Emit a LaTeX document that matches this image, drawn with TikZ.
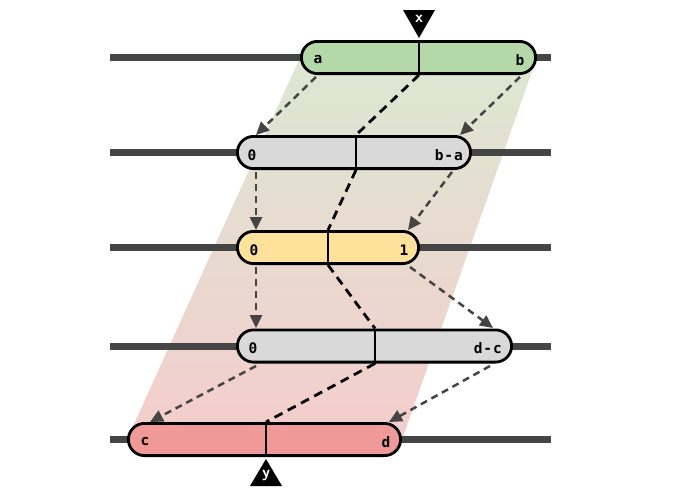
\documentclass[tikz,border=0pt]{standalone}
\usepackage{fontspec}
\newfontfamily\monof[LetterSpace=6]{DejaVu Sans Mono}
\usetikzlibrary{arrows.meta}
\definecolor{rail}{HTML}{454545}
\definecolor{pgreen}{HTML}{B5D8A8}
\definecolor{pgray}{HTML}{D9D9D9}
\definecolor{pyellow}{HTML}{FEE29B}
\definecolor{pred}{HTML}{EF9A98}
\definecolor{shtop}{HTML}{DCE8D2}
\definecolor{shbot}{HTML}{F4CDCC}
\definecolor{arr}{HTML}{444444}
\tikzset{
  railline/.style={line width=7pt, rail},
  pill/.style={draw=black, line width=2.8pt, rounded corners=16.1pt, minimum height=32.2pt, inner sep=0pt},
  divline/.style={line width=2.6pt, black},
  midline/.style={line width=2.8pt, black, dash pattern=on 9pt off 6pt},
  flow/.style={line width=2.5pt, arr, dash pattern=on 7pt off 5pt, -{Triangle[length=13pt,width=12pt]}},
  lbl/.style={font=\monof\bfseries\fontsize{14.5}{16}\selectfont, inner sep=0pt},
  tri/.style={fill=black},
  trilbl/.style={font=\sffamily\bfseries\fontsize{16}{18}\selectfont, text=white, inner sep=0pt}
}
\begin{document}
\begin{tikzpicture}[x=1pt,y=-1pt]
\useasboundingbox (0,0) rectangle (680,498);
% shaded band
\coordinate (s1) at (300,57.5);
\coordinate (s2) at (537,57.5);
\coordinate (s3) at (402,439.5);
\coordinate (s4) at (127,439.5);
\shade[top color=shtop, bottom color=shbot] (s1) -- (s2) -- (s3) -- (s4) -- cycle;
% rails
\foreach \yy/\nm in {57.5/r1,152.5/r2,247.5/r3,346/r4,439.5/r5}{
  \coordinate (\nm l) at (110,\yy);
  \coordinate (\nm r) at (551,\yy);
  \draw[railline] (\nm l) -- (\nm r);
}
% pills
\node[pill, fill=pgreen, minimum width=234.2pt] (p1) at (418.5,57.5) {};
\node[pill, fill=pgray, minimum width=233.2pt] (p2) at (354,152.5) {};
\node[pill, fill=pyellow, minimum width=181.2pt] (p3) at (328,247.5) {};
\node[pill, fill=pgray, minimum width=274.2pt] (p4) at (374.5,346) {};
\node[pill, fill=pred, minimum width=272.2pt] (p5) at (264.5,439.5) {};
% dividers
\coordinate (m1) at (419,57.5);
\coordinate (m2) at (356,152.5);
\coordinate (m3) at (328,247.5);
\coordinate (m4) at (375,346);
\coordinate (m5) at (266,439.5);
\foreach \i in {1,...,5}{
  \draw[divline] (m\i |- p\i.north) -- (m\i |- p\i.south);
}
% mid dashed connectors
\draw[midline] (m1 |- p1.south) -- (m2 |- p2.north);
\draw[midline] (m2 |- p2.south) -- (m3 |- p3.north);
\draw[midline] (m3 |- p3.south) -- (m4 |- p4.north);
\draw[midline] (m4 |- p4.south) -- (m5 |- p5.north);
% labels
\node[lbl] (la) at (318,60) {a};
\node[lbl] (lb) at (520,60) {b};
\node[lbl] (l20) at (252,155) {0};
\node[lbl, anchor=east] (l2r) at (463,155) {b-a};
\node[lbl] (l30) at (254,250) {0};
\node[lbl] (l31) at (404,250) {1};
\node[lbl] (l40) at (253,348) {0};
\node[lbl, anchor=east] (l4r) at (502,348) {d-c};
\node[lbl] (lc) at (145,442) {c};
\node[lbl] (ld) at (386,442) {d};
% flow arrows
\coordinate (a1s) at (316,77);  \coordinate (a1e) at (256,135);
\coordinate (b1s) at (520,77);  \coordinate (b1e) at (460,135);
\coordinate (a2s) at (256,172); \coordinate (a2e) at (256,230);
\coordinate (b2s) at (452,172); \coordinate (b2e) at (408,230);
\coordinate (a3s) at (256,267); \coordinate (a3e) at (256,328);
\coordinate (b3s) at (410,267); \coordinate (b3e) at (493,328);
\coordinate (a4s) at (256,366); \coordinate (a4e) at (150,422);
\coordinate (b4s) at (490,366); \coordinate (b4e) at (389,422);
\foreach \s in {a1,b1,a2,b2,a3,b3,a4,b4}{
  \draw[flow] (\s s) -- (\s e);
}
% x / y markers
\coordinate (xa) at (403,10);
\coordinate (xb) at (435,10);
\coordinate (xc) at (419,38);
\fill[tri] (xa) -- (xb) -- (xc) -- cycle;
\node[trilbl] (xl) at (419,19) {x};
\coordinate (ya) at (250,486);
\coordinate (yb) at (282,486);
\coordinate (yc) at (266,459);
\fill[tri] (ya) -- (yb) -- (yc) -- cycle;
\node[trilbl] (yl) at (266,475) {y};
\end{tikzpicture}
\end{document}
